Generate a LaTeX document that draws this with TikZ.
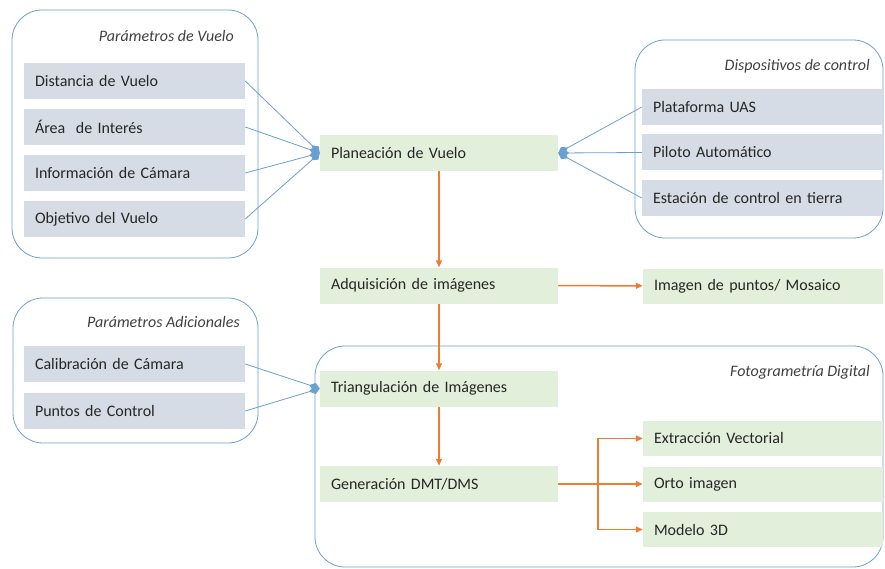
\documentclass[tikz,border=0pt]{standalone}
\usepackage{fontspec}
\setmainfont{Carlito}
\usetikzlibrary{arrows.meta, positioning}

\definecolor{grisazul}{HTML}{D6DCE5}
\definecolor{verdeclaro}{HTML}{E2EFDA}
\definecolor{azul}{HTML}{6A9FD3}
\definecolor{naranja}{HTML}{ED7D31}

\begin{document}
\begin{tikzpicture}[x=1pt, y=-1pt, on grid,
  font=\fontsize{16}{19}\selectfont, text=black!85,
  grupo/.style={draw=azul, line width=0.8pt, rounded corners=30pt},
  titulo/.style={font=\fontsize{16}{19}\selectfont\itshape, text=black!75, anchor=east, inner sep=0pt},
  gris/.style={fill=grisazul, minimum height=36pt, text width=199pt, align=left, inner xsep=11pt},
  grisder/.style={gris, text width=218pt},
  verde/.style={fill=verdeclaro, minimum height=36pt, text width=216pt, align=left, inner xsep=11pt},
  verdeder/.style={verde, text width=218pt, minimum height=35pt},
  enlace/.style={draw=azul, line width=0.8pt, -{Diamond[length=11pt, width=8pt, fill=azul]}},
  flujo/.style={draw=naranja, line width=1.5pt, -{Triangle[length=7pt, width=6pt]}}]
  \useasboundingbox (0,0) rectangle (885,569);

  % marcos
  \draw[grupo] (12,10) rectangle (258,258);
  \draw[grupo] (635,40) rectangle (883,238);
  \draw[grupo] (13,298) rectangle (258,443);
  \draw[grupo] (315,346) rectangle (883,567);
  \node[titulo] (tvuelo) at (234,36) {Parámetros de Vuelo};
  \node[titulo] (tcontrol) at (870,66) {Dispositivos de control};
  \node[titulo] (tadic) at (240,322) {Parámetros Adicionales};
  \node[titulo] (tfoto) at (870,372) {Fotogrametría Digital};

  % parametros de vuelo
  \node[gris] (dist) at (134.5,81) {Distancia de Vuelo};
  \node[gris] (area) [below=46pt of dist] {Área \ de Interés};
  \node[gris] (info) [below=46pt of area] {Información de Cámara};
  \node[gris] (obj) [below=46pt of info] {Objetivo del Vuelo};

  % dispositivos de control
  \node[grisder] (plat) at (762,107) {Plataforma UAS};
  \node[grisder] (pil) [below=45.5pt of plat] {Piloto Automático};
  \node[grisder] (est) [below=45.5pt of pil] {Estación de control en tierra};

  % parametros adicionales
  \node[gris] (cal) at (134.5,364) {Calibración de Cámara};
  \node[gris] (pts) [below=47pt of cal] {Puntos de Control};

  % flujo principal
  \node[verde] (plan) at (439,153) {Planeación de Vuelo};
  \node[verde] (adq) [below=132.5pt of plan] {Adquisición de imágenes};
  \node[verde] (tri) [below=103pt of adq] {Triangulación de Imágenes};
  \node[verde] (gen) [below=95.5pt of tri] {Generación DMT/DMS};
  \node[verdeder] (mos) at (763,286) {Imagen de puntos/ Mosaico};
  \node[verdeder] (ext) at (763,438.5) {Extracción Vectorial};
  \node[verdeder] (ort) [below=45.5pt of ext] {Orto imagen};
  \node[verdeder] (mod) [below=45.5pt of ort] {Modelo 3D};
  \coordinate (bif) at (598,484);

  \draw[enlace] (dist.east) -- (plan.west);
  \draw[enlace] (area.east) -- (plan.west);
  \draw[enlace] (info.east) -- (plan.west);
  \draw[enlace] (obj.east) -- (plan.west);
  \draw[enlace] (plat.west) -- (plan.east);
  \draw[enlace] (pil.west) -- (plan.east);
  \draw[enlace] (est.west) -- (plan.east);
  \draw[enlace] (cal.east) -- (tri.west);
  \draw[enlace] (pts.east) -- (tri.west);

  \draw[flujo] (plan) -- (adq);
  \draw[flujo] (adq) -- (mos);
  \draw[flujo] (adq) -- (tri);
  \draw[flujo] (tri) -- (gen);
  \draw[flujo] (gen.east) -- (ort.west);
  \draw[flujo] (bif) |- (ext.west);
  \draw[flujo] (bif) |- (mod.west);
\end{tikzpicture}
\end{document}
